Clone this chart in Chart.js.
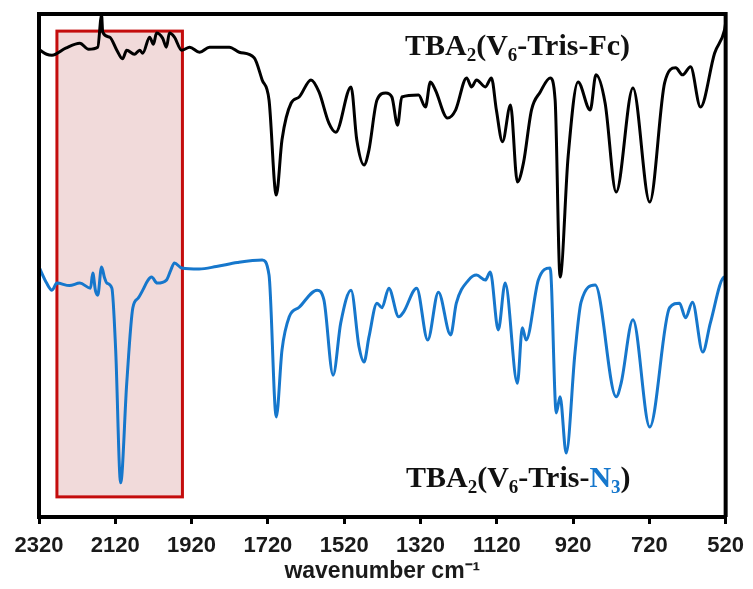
<!DOCTYPE html>
<html>
<head>
<meta charset="utf-8">
<script src="https://cdn.jsdelivr.net/npm/chart.js@4.4.0/dist/chart.umd.min.js"></script>
<style>
  html, body { margin: 0; padding: 0; background: #fff; }
  #wrap { width: 753px; height: 589px; }
</style>
</head>
<body>
<div id="wrap"><canvas id="irChart" width="753" height="589"></canvas></div>
<script>
'use strict';

// wavenumbers (cm-1) and relative transmittance
var fcWave = [2317, 2300, 2286, 2250, 2213, 2190, 2166, 2156, 2153, 2135, 2116, 2101, 2090, 2070, 2056, 2048, 2030,
  2020, 2012, 1996, 1986, 1978, 1965, 1946, 1925, 1899, 1873, 1821, 1795, 1756, 1735, 1717, 1698, 1683, 1659,
  1638, 1607, 1586, 1560, 1542, 1502, 1487, 1468, 1455, 1434, 1411, 1395, 1380, 1369, 1325, 1307, 1294, 1281,
  1249, 1228, 1199, 1186, 1173, 1150, 1134, 1121, 1105, 1084, 1066, 1050, 1029, 1006, 980, 967, 954, 933, 907,
  875, 860, 836, 807, 763, 719, 680, 651, 633, 612, 586, 549, 523, 520];
var fcValues = [92.8, 92.0, 91.8, 93.2, 94.2, 93.0, 93.4, 99.8, 96.4, 95.4, 92.8, 91.1, 92.8, 92.0, 92.8, 92.2, 95.4,
  94.0, 96.2, 95.2, 93.4, 96.2, 95.4, 92.8, 93.4, 92.4, 93.4, 93.4, 92.4, 91.3, 86.9, 82.9, 64.0, 75.0, 82.3,
  83.5, 86.9, 84.5, 78.3, 76.5, 85.5, 75.0, 70.0, 73.0, 82.9, 84.3, 83.5, 77.9, 83.5, 83.9, 81.5, 86.5, 84.9,
  79.3, 80.9, 87.3, 85.5, 86.9, 85.5, 87.3, 80.9, 74.6, 81.9, 66.6, 70.4, 80.9, 84.5, 87.3, 82.9, 47.7, 71.6, 86.5,
  80.9, 87.9, 82.3, 64.6, 85.3, 62.6, 86.3, 89.3, 87.9, 89.5, 81.5, 92.2, 96.8, 98.2];

var n3Wave = [2320, 2300, 2286, 2273, 2240, 2213, 2185, 2179, 2172, 2166, 2156, 2148, 2142, 2129, 2119, 2106, 2090,
  2074, 2060, 2048, 2035, 2025, 2010, 1986, 1975, 1965, 1946, 1900, 1855, 1800, 1735, 1717, 1698, 1683, 1664, 1638,
  1591, 1573, 1549, 1529, 1502, 1481, 1468, 1455, 1434, 1421, 1403, 1377, 1364, 1330, 1301, 1273, 1241, 1226,
  1194, 1173, 1150, 1137, 1116, 1098, 1066, 1053, 1043, 1011, 980, 964, 954, 938, 915, 899, 862, 807, 794, 763,
  719, 667, 641, 625, 607, 580, 560, 523, 520];
var n3Values = [49.7, 46.5, 45.1, 46.5, 46.0, 46.5, 45.5, 48.5, 45.0, 44.1, 49.7, 47.5, 46.5, 45.5, 33.2, 6.8, 26.6,
  41.6, 43.5, 45.1, 47.0, 47.7, 46.5, 47.1, 49.0, 50.5, 49.5, 49.3, 49.8, 50.6, 51.1, 48.1, 19.9, 33.2, 39.8, 41.7,
  45.1, 43.1, 28.2, 38.6, 45.1, 33.8, 30.8, 35.8, 42.5, 41.6, 45.5, 39.8, 40.8, 45.5, 35.2, 44.7, 36.2, 42.5,
  47.1, 48.1, 47.1, 48.7, 37.2, 46.5, 26.6, 37.6, 35.2, 47.1, 49.5, 20.7, 23.9, 12.7, 32.6, 42.7, 46.1, 23.9, 26.6,
  39.2, 17.9, 41.6, 42.5, 39.6, 42.7, 32.8, 38.6, 47.7, 45.1];

// highlighted azide region
var boxWave = [2273, 1944];
var boxLevel = [4.0, 96.6];

var xTicks = [2320, 2120, 1920, 1720, 1520, 1320, 1120, 920, 720, 520];

var blue = '#1677cc';

function toPoints(xs, ys) {
  return xs.map(function(x, i) { return { x: x, y: ys[i] }; });
}

// shaded box behind the lines
var boxPlugin = {
  id: 'boxPlugin',
  beforeDatasetsDraw: function(chart) {
    var c = chart.ctx, xs = chart.scales.x, ys = chart.scales.y;
    var x1 = xs.getPixelForValue(boxWave[0]), x2 = xs.getPixelForValue(boxWave[1]);
    var y1 = ys.getPixelForValue(boxLevel[1]), y2 = ys.getPixelForValue(boxLevel[0]);
    c.save();
    c.fillStyle = 'rgba(205, 120, 120, 0.27)';
    c.fillRect(x1, y1, x2 - x1, y2 - y1);
    c.strokeStyle = '#c40c0c';
    c.lineWidth = 3;
    c.strokeRect(x1, y1, x2 - x1, y2 - y1);
    c.restore();
  }
};

// draws a formula made of pieces, some of them subscripts
function drawFormula(c, x, y, parts) {
  parts.forEach(function(p) {
    c.font = p.sub ? 'bold 19px "Liberation Serif"' : 'bold 30px "Liberation Serif"';
    c.fillStyle = p.color || '#111';
    c.fillText(p.t, x, p.sub ? y + 6 : y);
    x += c.measureText(p.t).width;
  });
}

// frame, sample names
var framePlugin = {
  id: 'framePlugin',
  afterDatasetsDraw: function(chart) {
    var c = chart.ctx, a = chart.chartArea;
    c.save();
    c.strokeStyle = '#000';
    c.lineWidth = 4;
    c.beginPath();
    c.moveTo(a.left, a.bottom);
    c.lineTo(a.left, a.top);
    c.lineTo(a.right, a.top);
    c.lineTo(a.right, a.bottom);
    c.stroke();
    c.textBaseline = 'alphabetic';
    drawFormula(c, 405, 55, [{ t: 'TBA' }, { t: '2', sub: true }, { t: '(V' }, { t: '6', sub: true },
      { t: '-Tris-Fc)' }]);
    drawFormula(c, 406, 487, [{ t: 'TBA' }, { t: '2', sub: true }, { t: '(V' }, { t: '6', sub: true },
      { t: '-Tris-' }, { t: 'N', color: blue }, { t: '3', sub: true, color: blue }, { t: ')' }]);
    c.restore();
  }
};

var ctx = document.getElementById('irChart').getContext('2d');

var chart = new Chart(ctx, {
  type: 'line',
  data: {
    datasets: [{
      label: 'TBA2(V6-Tris-Fc)',
      data: toPoints(fcWave, fcValues),
      borderColor: '#000',
      borderWidth: 3,
      pointRadius: 0,
      cubicInterpolationMode: 'monotone'
    },
    {
      label: 'TBA2(V6-Tris-N3)',
      data: toPoints(n3Wave, n3Values),
      borderColor: blue,
      borderWidth: 3,
      pointRadius: 0,
      cubicInterpolationMode: 'monotone'
    }]
  },
  options: {
    responsive: false,
    animation: false,
    layout: { autoPadding: false, padding: { left: 39, right: 25, top: 14, bottom: 0 } },
    plugins: {
      legend: { display: false },
      tooltip: { enabled: false }
    },
    scales: {
      x: {
        type: 'linear',
        reverse: true,
        min: 520,
        max: 2320,
        afterBuildTicks: function(axis) {
          axis.ticks = xTicks.map(function(v) { return { value: v }; });
        },
        afterFit: function(axis) { axis.height = 72; },
        border: { display: true, color: '#000', width: 4 },
        grid: { drawOnChartArea: false, drawTicks: true, tickLength: 7, color: '#000', lineWidth: 3 },
        ticks: {
          autoSkip: false,
          maxRotation: 0,
          padding: 9,
          color: '#1a1a1a',
          font: { family: '"Liberation Sans"', size: 22, weight: 'bold' },
          callback: function(v) { return String(v); }
        },
        title: {
          display: true,
          text: 'wavenumber cm⁻¹',
          color: '#1a1a1a',
          padding: { top: 0, bottom: 4 },
          font: { family: '"Liberation Sans"', size: 23, weight: 'bold' }
        }
      },
      y: {
        display: false,
        min: 0,
        max: 100
      }
    }
  },
  plugins: [boxPlugin, framePlugin]
});
</script>
</body>
</html>
